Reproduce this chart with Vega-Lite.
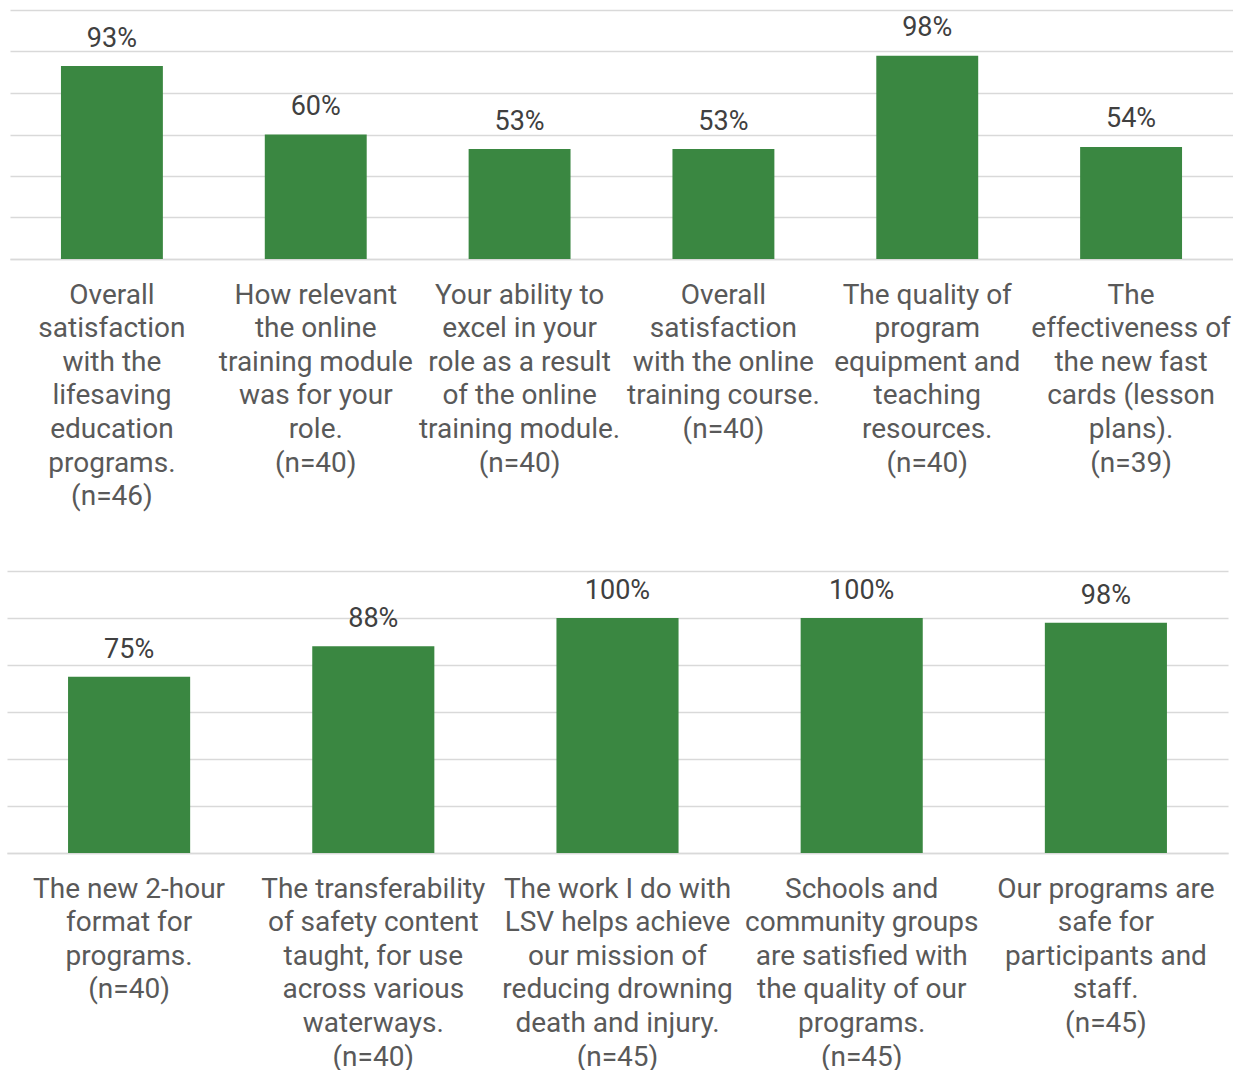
{
  "$schema": "https://vega.github.io/schema/vega-lite/v6.json",
  "padding": {"left": 7, "top": 10, "right": 0, "bottom": 0},
  "background": "white",
  "datasets": {
    "top": [
      {"q": "Overall|satisfaction|with the|lifesaving|education|programs.|(n=46)", "v": 0.93},
      {"q": "How relevant|the online|training module|was for your|role.|(n=40)", "v": 0.60},
      {"q": "Your ability to|excel in your|role as a result|of the online|training module.|(n=40)", "v": 0.53},
      {"q": "Overall|satisfaction|with the online|training course.|(n=40)", "v": 0.53},
      {"q": "The quality of|program|equipment and|teaching|resources.|(n=40)", "v": 0.98},
      {"q": "The|effectiveness of|the new fast|cards (lesson|plans).|(n=39)", "v": 0.54}
    ],
    "bottom": [
      {"q": "The new 2-hour|format for|programs.|(n=40)", "v": 0.75},
      {"q": "The transferability|of safety content|taught, for use|across various|waterways.|(n=40)", "v": 0.88},
      {"q": "The work I do with|LSV helps achieve|our mission of|reducing drowning|death and injury.|(n=45)", "v": 1.0},
      {"q": "Schools and|community groups|are satisfied with|the quality of our|programs.|(n=45)", "v": 1.0},
      {"q": "Our programs are|safe for|participants and|staff.|(n=45)", "v": 0.98}
    ]
  },
  "config": {
    "view": {"stroke": null},
    "font": "Roboto",
    "concat": {"spacing": 60},
    "axisX": {
      "title": null,
      "labelAngle": 0,
      "labelFont": "Roboto",
      "labelFontSize": 28,
      "labelColor": "#595959",
      "labelLineHeight": 33.6,
      "labelPadding": 22,
      "labelLimit": 400,
      "labelOverlap": false,
      "labelBound": false,
      "labelFlush": false,
      "labelBaseline": "top",
      "labelExpr": "split(datum.label, '|')",
      "ticks": false,
      "domainColor": "#d9d9d9",
      "domainWidth": 1.5,
      "grid": false
    },
    "axisY": {
      "title": null,
      "labels": false,
      "ticks": false,
      "domain": false,
      "grid": true,
      "gridColor": "#d9d9d9",
      "gridWidth": 1.5,
      "values": [0, 0.2, 0.4, 0.6, 0.8, 1.0, 1.2]
    },
    "scale": {"bandPaddingInner": 0.5, "bandPaddingOuter": 0.25}
  },
  "vconcat": [
    {
      "width": 1226,
      "height": 249,
      "data": {"name": "top"},
      "encoding": {
        "x": {"field": "q", "type": "nominal", "sort": null, "scale": {"range": [3, 1226]}},
        "y": {"field": "v", "type": "quantitative", "scale": {"domain": [0, 1.2], "nice": false}}
      },
      "layer": [
        {"mark": {"type": "bar", "color": "#3a8741"}},
        {
          "mark": {"type": "text", "dy": -19.5, "baseline": "alphabetic", "fontSize": 27, "color": "#404040", "font": "Roboto"},
          "encoding": {"text": {"field": "v", "type": "quantitative", "format": ".0%"}}
        }
      ]
    },
    {
      "width": 1221,
      "height": 282,
      "data": {"name": "bottom"},
      "encoding": {
        "x": {"field": "q", "type": "nominal", "sort": null},
        "y": {"field": "v", "type": "quantitative", "scale": {"domain": [0, 1.2], "nice": false}}
      },
      "layer": [
        {"mark": {"type": "bar", "color": "#3a8741"}},
        {
          "mark": {"type": "text", "dy": -19, "baseline": "alphabetic", "fontSize": 27, "color": "#404040", "font": "Roboto"},
          "encoding": {"text": {"field": "v", "type": "quantitative", "format": ".0%"}}
        }
      ]
    }
  ]
}
